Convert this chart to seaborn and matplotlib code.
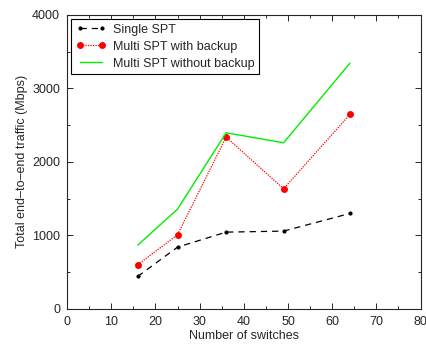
import seaborn as sns
import matplotlib
matplotlib.use('Agg')
import matplotlib.pyplot as plt
import matplotlib.ticker as ticker
import pandas as pd

switches = [16, 25, 36, 49, 64]
single_spt = [440, 839, 1043, 1057, 1297]
multi_backup = [599, 1007, 2336, 1633, 2644]
multi_no_backup = [866, 1356, 2395, 2259, 3342]

sns.set_style('ticks')
plt.rcParams['font.family'] = ['Liberation Sans', 'DejaVu Sans']

df = pd.DataFrame({'switches': switches * 3,
                   'traffic': single_spt + multi_backup + multi_no_backup,
                   'series': ['Single SPT'] * 5 + ['Multi SPT with backup'] * 5
                   + ['Multi SPT without backup'] * 5})

f, ax = plt.subplots(figsize=(4.27, 3.45), dpi=100)

sns.lineplot(data=df[df['series'] == 'Single SPT'], x='switches', y='traffic',
             color='black', linestyle=(0, (5, 4)), marker='o', markersize=3,
             markeredgewidth=0, linewidth=0.9, label='Single SPT', ax=ax)
sns.lineplot(data=df[df['series'] == 'Multi SPT with backup'], x='switches',
             y='traffic', color='red', linestyle=(0, (1, 1)), marker='o',
             markersize=5, markeredgewidth=0, linewidth=0.9,
             label='Multi SPT with backup', ax=ax)
sns.lineplot(data=df[df['series'] == 'Multi SPT without backup'], x='switches',
             y='traffic', color='#00ee00', linewidth=1.0,
             label='Multi SPT without backup', ax=ax)

ax.set(xlim=(0, 80), ylim=(0, 4000))
ax.xaxis.set_major_locator(ticker.MultipleLocator(10))
ax.xaxis.set_minor_locator(ticker.MultipleLocator(5))
ax.yaxis.set_major_locator(ticker.MultipleLocator(1000))
ax.yaxis.set_minor_locator(ticker.MultipleLocator(500))
ax.tick_params(which='both', top=True, right=True, direction='in',
               labelsize=9, width=0.7, pad=5)
ax.tick_params(which='major', length=4)
ax.tick_params(which='minor', length=2.5)
for s in ax.spines.values():
    s.set_linewidth(0.8)
ax.set_xlabel('Number of switches', fontsize=9, labelpad=2)
ax.set_ylabel('Total end\u2013to\u2013end traffic (Mbps)', fontsize=9, labelpad=3)

leg = ax.legend(loc='upper left', fontsize=9, frameon=True, fancybox=False,
                edgecolor='black', borderaxespad=0.35, handlelength=2.4,
                labelspacing=0.4, borderpad=0.35, numpoints=2,
                handletextpad=0.6)
leg.get_frame().set_linewidth(0.8)
leg.get_frame().set_alpha(1)

f.subplots_adjust(left=0.157, right=0.985, top=0.957, bottom=0.105)
f.savefig('out.png', dpi=100)
